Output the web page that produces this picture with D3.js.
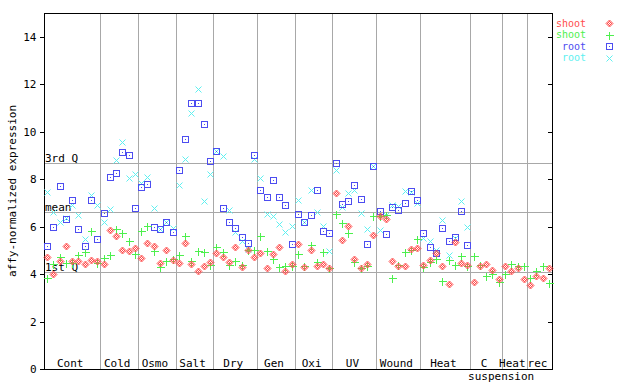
<!DOCTYPE html>
<html><head><meta charset="utf-8">
<script src="https://cdn.jsdelivr.net/npm/d3@7"></script>
<style>body{margin:0;background:#fff}svg{display:block}text{font-family:"DejaVu Sans Mono",monospace;font-size:11px}</style>
</head><body><svg id="c" width="640" height="384"></svg>
<script>
const categories = ["Cont","Cold","Osmo","Salt","Dry","Gen","Oxi","UV","Wound","Heat","C","Heat","rec"];
const samplesPerCategory = [9,6,6,6,7,6,6,7,7,8,5,4,4];
const yTicks = [0,2,4,6,8,10,12,14];
const refLabels = ["3rd Q","mean","1st Q"];
const refValues = [8.68, 6.62, 4.09];
const seriesNames = ["shoot","shoot","root","root"];

const shootRed = [
 4.72,4.0,4.55,5.18,4.55,4.55,4.42,4.59,4.55,
 4.41,5.86,5.6,5.01,4.97,5.11,
 4.69,5.3,5.18,4.48,5.01,4.6,
 4.48,5.33,4.42,4.12,4.34,4.51,
 4.9,4.73,4.51,5.13,4.29,5.0,4.71,
 4.87,4.24,4.83,5.13,4.12,4.42,
 5.25,4.29,5.01,4.33,4.41,4.24,
 7.4,5.42,6.01,4.62,4.24,4.41,5.63,
 6.45,6.31,4.54,4.33,4.33,5.04,5.08,
 4.37,4.58,4.87,4.33,3.57,5.34,4.45,4.37,
 3.65,4.33,4.41,4.16,3.78,
 4.33,4.12,4.24,3.78,
 3.53,3.91,3.82,4.24];
const shootGreen = [
 3.85,4.42,4.72,4.47,4.47,4.8,4.93,5.82,4.47,
 4.69,4.8,5.9,5.72,5.39,4.83,
 5.82,6.04,4.99,4.31,4.55,4.62,
 4.79,5.6,4.55,4.96,4.92,4.38,
 5.13,4.92,4.38,4.55,4.38,5.01,5.01,
 5.6,4.96,4.62,4.29,4.33,4.33,
 4.83,4.33,5.21,4.5,4.92,4.24,
 6.52,6.14,5.72,4.5,4.24,4.33,6.43,
 6.43,6.48,3.82,4.37,4.92,5.01,5.46,
 4.29,4.5,4.62,3.69,4.58,4.37,4.75,4.33,
 4.75,4.37,3.91,3.99,3.65,
 3.99,4.41,4.33,4.33,
 3.82,4.12,4.33,3.61];
const rootBlue = [
 5.18,5.98,7.71,6.32,7.12,5.9,5.18,7.12,5.48,
 6.56,8.08,8.25,9.13,9.02,6.77,
 7.66,7.8,6.0,5.89,6.18,5.76,
 8.37,9.68,11.2,11.2,10.31,8.75,
 9.2,6.77,6.18,5.93,5.55,5.3,9.0,
 7.53,7.24,7.95,7.24,6.9,5.25,
 6.52,6.19,6.48,7.53,5.8,5.72,
 8.67,6.94,7.07,7.74,7.15,5.25,8.55,
 6.67,5.67,6.81,6.69,6.98,7.49,7.11,
 5.72,5.13,4.87,5.93,5.38,5.55,6.65,5.21,
 null,null,null,null,null,
 null,null,null,null,
 null,null,null,null];
const rootCyan = [
 7.46,6.62,6.19,6.36,6.91,6.49,5.48,7.33,6.91,
 6.18,6.73,8.81,9.55,8.05,8.22,
 7.82,8.08,6.77,5.89,6.2,5.93,
 7.74,8.84,10.77,11.79,7.07,8.2,
 9.2,8.96,6.69,5.79,5.38,5.04,8.84,
 8.04,6.52,6.43,6.1,5.76,6.01,
 7.11,6.19,7.53,6.6,6.01,4.96,
 8.37,6.81,7.4,7.53,6.56,5.89,8.55,
 5.84,6.48,6.9,6.86,7.49,7.45,6.98,
 5.5,5.38,5.0,6.27,4.79,5.5,7.07,5.97,
 null,null,null,null,null,
 null,null,null,null,
 null,null,null,null];

const colors = ["#ff4d4d","#4df04d","#4d4df0","#5ef0f0"];
const shapes = ["diamond","plus","square","cross"];
const series = [shootRed, shootGreen, rootBlue, rootCyan];

const svg = d3.select("#c");
const L=44, R=552, T=13, B=369;
const nSlots = d3.sum(samplesPerCategory);
const x = d3.scaleLinear().domain([0,nSlots]).range([L,R]);
const y = d3.scaleLinear().domain([0,15]).range([B,T]);
const bounds = [0, ...d3.cumsum(samplesPerCategory)];

const defs = svg.append("defs");
const pat = defs.append("pattern").attr("id","chk").attr("width",2).attr("height",2).attr("patternUnits","userSpaceOnUse");
pat.append("rect").attr("x",0).attr("y",0).attr("width",1).attr("height",1).attr("fill",colors[0]);
pat.append("rect").attr("x",1).attr("y",1).attr("width",1).attr("height",1).attr("fill",colors[0]);

const g = svg.append("g").attr("shape-rendering","crispEdges");
g.selectAll("line.v").data(bounds.slice(1,-1)).join("line")
  .attr("x1",d=>Math.round(x(d))+0.5).attr("x2",d=>Math.round(x(d))+0.5)
  .attr("y1",T).attr("y2",B).attr("stroke","#a8a8a8");
g.selectAll("line.h").data(refValues).join("line")
  .attr("x1",L).attr("x2",R).attr("y1",d=>Math.round(y(d))+0.5).attr("y2",d=>Math.round(y(d))+0.5)
  .attr("stroke","#a8a8a8");
svg.selectAll("text.ref").data(refValues).join("text")
  .attr("x",L+1).attr("y",d=>Math.round(y(d))-1).text((d,i)=>refLabels[i]).attr("fill","#000");

const axisL = d3.axisLeft(y).tickValues(yTicks).tickSize(5).tickPadding(3).tickFormat(d3.format("d"));
const ga = svg.append("g").attr("transform",`translate(${L+0.5},0)`).attr("shape-rendering","crispEdges").call(axisL);
ga.select(".domain").remove();
ga.selectAll("text").style("font-family","DejaVu Sans Mono").style("font-size","11px").attr("fill","#000");
const axisR = d3.axisLeft(y).tickValues(yTicks).tickSize(5).tickFormat("");
const gr = svg.append("g").attr("transform",`translate(${R+0.5},0)`).attr("shape-rendering","crispEdges").call(axisR);
gr.select(".domain").remove();
g.append("line").attr("x1",L+0.5).attr("x2",L+0.5).attr("y1",T).attr("y2",B+1).attr("stroke","#000");
g.append("line").attr("x1",R+0.5).attr("x2",R+0.5).attr("y1",T).attr("y2",B+1).attr("stroke","#000");
g.append("line").attr("x1",L).attr("x2",R+1).attr("y1",B+0.5).attr("y2",B+0.5).attr("stroke","#000");
g.append("line").attr("x1",L).attr("x2",R+1).attr("y1",T+0.5).attr("y2",T+0.5).attr("stroke","#000");

svg.selectAll("text.cat").data(categories).join("text")
  .attr("x",(d,i)=>x((bounds[i]+bounds[i+1])/2)-2).attr("y",B-2)
  .attr("text-anchor","middle").text(d=>d);
svg.append("text").attr("x",x((bounds[10]+bounds[11])/2)+15).attr("y",B+11)
  .attr("text-anchor","middle").text("suspension");

svg.append("text").attr("transform",`translate(16,${(T+B)/2}) rotate(-90)`)
  .attr("text-anchor","middle").text("affy-normalized expression");

function drawMarker(sel, shape, color){
  if(shape==="diamond"){
    sel.append("path").attr("d","M0.5,-3L4,0.5L0.5,4L-3,0.5Z").attr("fill","url(#chk)")
      .attr("stroke",color).attr("stroke-width",0.9);
  } else if(shape==="plus"){
    sel.append("path").attr("d","M-3.5,0.5H4.5M0.5,-3.5V4.5").attr("stroke",color).attr("stroke-width",1).attr("shape-rendering","crispEdges");
  } else if(shape==="square"){
    sel.append("rect").attr("x",-2.5).attr("y",-2.5).attr("width",6).attr("height",6).attr("fill","none").attr("stroke",color).attr("stroke-width",1).attr("shape-rendering","crispEdges");
    sel.append("rect").attr("x",0).attr("y",0).attr("width",1).attr("height",1).attr("fill",color).attr("shape-rendering","crispEdges");
  } else {
    sel.append("path").attr("d","M-2.5,-2.5L3.5,3.5M3.5,-2.5L-2.5,3.5").attr("stroke",color).attr("stroke-width",1);
  }
}

const order = [3,2,1,0];
order.forEach(si=>{
  const pts = series[si].map((v,i)=>({i,v})).filter(d=>d.v!=null);
  svg.append("g").selectAll("g").data(pts).join("g")
    .attr("transform",d=>`translate(${Math.round(x(d.i+0.5))},${Math.round(y(d.v))})`)
    .each(function(){ drawMarker(d3.select(this), shapes[si], colors[si]); });
});

seriesNames.forEach((nm,i)=>{
  const yy = 23 + i*11.5;
  svg.append("text").attr("x",586).attr("y",yy+3.5).attr("text-anchor","end")
    .style("font-size","10px").attr("fill",colors[i]).text(nm);
  const m = svg.append("g").attr("transform",`translate(609,${Math.round(yy)})`);
  drawMarker(m, shapes[i], colors[i]);
});
</script></body></html>
